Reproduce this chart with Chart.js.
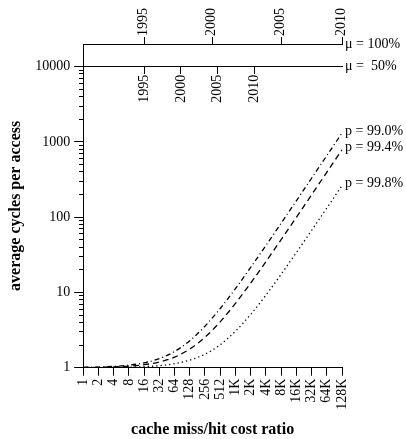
<!DOCTYPE html>
<html>
<head>
<meta charset="utf-8">
<script src="https://cdn.jsdelivr.net/npm/chart.js@4.4.1/dist/chart.umd.min.js"></script>
<style>
  html, body { margin: 0; padding: 0; background: #fff; }
  #wrap { width: 406px; height: 439px; }
</style>
</head>
<body>
<div id="wrap"><canvas id="missChart"></canvas></div>
<script>
// miss/hit cost ratio categories
const ratios = ['1','2','4','8','16','32','64','128','256','512','1K','2K','4K','8K','16K','32K','64K','128K'];

// average cycles per access, one value per ratio
const p990 = [1.01,1.02,1.04,1.08,1.16,1.32,1.64,2.28,3.56,6.12,11.2,21.5,42.0,82.9,165,329,656,1312];
const p994 = [1.006,1.012,1.024,1.048,1.096,1.19,1.38,1.77,2.54,4.07,7.14,13.3,25.6,50.2,99.3,198,394,787];
const p998 = [1.002,1.004,1.008,1.016,1.032,1.064,1.13,1.26,1.51,2.02,3.05,5.10,9.19,17.4,33.8,66.5,132,263];
const seriesLabels = ['p = 99.0%', 'p = 99.4%', 'p = 99.8%'];

// y axis ticks
const decades = [1, 10, 100, 1000, 10000];
const minorTicks = [];
decades.forEach(d => { for (let k = 2; k <= 9; k++) if (d * k < 20000) minorTicks.push(d * k); });

// memory-speed reference lines and their year marks (position in ratio steps)
const muLevels = [20000, 10000];
const muLabels = ['μ = 100%', 'μ =  50%'];
const years = ['1995', '2000', '2005', '2010'];
const yearAt100 = [4, 8.5, 13, 17];
const yearAt50 = [4, 6.42, 8.84, 11.26];

Chart.defaults.font.family = '"Liberation Serif", "Times New Roman", serif';
Chart.defaults.font.size = 14;
Chart.defaults.color = '#000';

const endLabels = {
  id: 'endLabels',
  afterDraw(chart) {
    const { ctx, chartArea, scales } = chart;
    ctx.save();
    ctx.font = '14px "Liberation Serif"';
    ctx.fillStyle = '#000';
    ctx.textBaseline = 'middle';
    muLevels.forEach((v, i) => {
      ctx.fillText(muLabels[i], chartArea.right + 3, scales.y.getPixelForValue(v));
    });
    chart.data.datasets.forEach((ds, i) => {
      const pts = chart.getDatasetMeta(i).data;
      const last = pts[pts.length - 1];
      ctx.fillText(ds.label, last.x + 3, last.y - 2);
    });
    ctx.restore();
  }
};

const lineStyle = (label, data, dash) => ({
  label, data,
  borderColor: '#000',
  borderWidth: 1.3,
  borderDash: dash,
  pointRadius: 0,
  fill: false,
  cubicInterpolationMode: 'monotone',
  yAxisID: 'y',
  xAxisID: 'x'
});

const yearAxis = (pos, at, shift) => ({
  type: 'linear',
  position: pos,
  min: 0,
  max: ratios.length - 1,
  afterBuildTicks: s => { s.ticks = at.map(v => ({ value: v })); },
  ticks: {
    autoSkip: false, minRotation: 90, maxRotation: 90, padding: 1, labelOffset: shift,
    callback: (v, i) => years[i]
  },
  grid: { drawOnChartArea: false, tickLength: 7, color: '#000', lineWidth: 1 },
  border: { display: true, color: '#000', width: 1 }
});

new Chart(document.getElementById('missChart'), {
  type: 'line',
  data: {
    labels: ratios,
    datasets: [
      lineStyle(seriesLabels[0], p990, [5, 3, 1, 3]),
      lineStyle(seriesLabels[1], p994, [6, 4]),
      lineStyle(seriesLabels[2], p998, [1.3, 3])
    ]
  },
  options: {
    responsive: true,
    maintainAspectRatio: false,
    animation: false,
    layout: { padding: { left: 6, top: 7, right: 64, bottom: 0 } },
    plugins: { legend: { display: false }, tooltip: { enabled: false } },
    scales: {
      x: {
        type: 'category',
        offset: false,
        ticks: { autoSkip: false, minRotation: 90, maxRotation: 90, padding: 3 },
        grid: { drawOnChartArea: false, tickLength: 8, color: '#000' },
        border: { color: '#000', width: 1 },
        title: { display: true, text: 'cache miss/hit cost ratio', font: { weight: 'bold', size: 16 }, padding: { top: 7, bottom: 0 } }
      },
      x2: yearAxis('top', yearAt100, 16),
      x3: yearAxis({ y: 10000 }, yearAt50, 0),
      y: {
        type: 'logarithmic',
        min: 1,
        max: 20000,
        afterBuildTicks: s => { s.ticks = decades.map(v => ({ value: v })); },
        ticks: { padding: 4, callback: v => String(v) },
        grid: { drawOnChartArea: false, tickLength: 9, color: '#000' },
        border: { color: '#000', width: 1 },
        title: { display: true, text: 'average cycles per access', font: { weight: 'bold', size: 16 }, padding: { top: 0, bottom: 6 } }
      },
      y2: {
        type: 'logarithmic',
        position: { x: 0 },
        min: 1,
        max: 20000,
        afterBuildTicks: s => { s.ticks = minorTicks.map(v => ({ value: v })); },
        ticks: { display: false },
        grid: { drawOnChartArea: false, tickLength: 4, color: '#000' },
        border: { display: false }
      }
    }
  },
  plugins: [endLabels]
});
</script>
</body>
</html>
